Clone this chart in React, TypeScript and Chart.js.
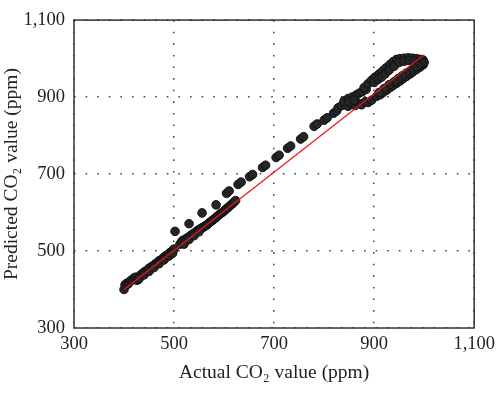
import React, { useEffect, useRef } from "react";
import { Chart, registerables } from "chart.js";

Chart.register(...registerables);

const xTickValues = [300, 500, 700, 900, 1100];
const xTickLabels = ["300", "500", "700", "900", "1,100"];
const yTickValues = [300, 500, 700, 900, 1100];
const yTickLabels = ["300", "500", "700", "900", "1,100"];

const xTitle = "Actual CO\u2082 value (ppm)";
const yTitle = "Predicted CO\u2082 value (ppm)";

// fit line (actual -> predicted)
const fitLine: [number, number][] = [
  [400, 400],
  [1000, 1010],
];

// lower dense band 400-500
const bandLow: [number, number][] = [
  [400, 400], [402, 412], [405, 416], [408, 414], [411, 420], [414, 424], [417, 425],
  [420, 430], [423, 432], [426, 424], [429, 427], [432, 436], [435, 440], [438, 442],
  [441, 446], [444, 448], [447, 450], [450, 455], [453, 457], [456, 460], [459, 462],
  [462, 466], [465, 468], [468, 472], [471, 475], [474, 477], [477, 480], [480, 484],
  [483, 487], [486, 489], [489, 492], [492, 496], [495, 498], [498, 502], [500, 505],
  [430, 428], [440, 438], [450, 447], [460, 457], [470, 467], [480, 477], [490, 487], [497, 494],
];

// middle band 510-625
const bandMid: [number, number][] = [
  [512, 518], [515, 524], [518, 528], [521, 527], [524, 532], [527, 534], [530, 537],
  [533, 540], [536, 543], [539, 545], [542, 548], [545, 551], [548, 554], [551, 556],
  [554, 559], [557, 561], [560, 563], [520, 518], [530, 530], [540, 540], [550, 550],
  [563, 566], [566, 568], [569, 572], [572, 575], [575, 578], [578, 581], [581, 584],
  [584, 587], [587, 591], [590, 594], [593, 597], [596, 600], [599, 603], [602, 606],
  [605, 610], [608, 613], [611, 617], [614, 620], [617, 623], [620, 627], [623, 631],
];

// outliers and dashed upper series
const upperSeries: [number, number][] = [
  [502, 551], [530, 571], [556, 599], [584, 620],
  [605, 650], [610, 656], [628, 673], [634, 679], [651, 693], [657, 699],
  [677, 717], [683, 723], [704, 743], [710, 749], [727, 767], [733, 773],
  [753, 791], [759, 797], [780, 824], [786, 830], [800, 840], [806, 846],
  [819, 858], [825, 864],
];

// upper-right cluster
const clusterHigh: [number, number][] = [
  [828, 872], [835, 878], [842, 880], [848, 876], [855, 882], [862, 878], [868, 884],
  [875, 880], [882, 888], [888, 886], [895, 892], [840, 890], [848, 896], [856, 900],
  [864, 905], [870, 910], [876, 914], [884, 920], [850, 888], [860, 892],
  [880, 925], [888, 935], [895, 944], [902, 952], [910, 960], [917, 968], [924, 976],
  [931, 984], [938, 992], [945, 998], [952, 1000], [960, 1001], [968, 1002], [976, 1001],
  [984, 1000], [992, 998], [998, 996],
  [900, 938], [908, 946], [915, 952], [922, 960], [930, 970], [940, 980], [950, 990],
  [960, 993], [970, 995], [980, 993], [990, 990],
  [905, 902], [912, 906], [918, 912], [925, 918], [932, 925], [938, 930], [945, 936],
  [952, 942], [958, 948], [965, 954], [972, 960], [978, 966], [985, 972], [992, 978],
  [998, 984], [1000, 990], [995, 988], [988, 982], [980, 975], [972, 968], [964, 962],
  [956, 955], [948, 948], [940, 940], [930, 932], [920, 922], [910, 912],
];

const toXY = (arr: [number, number][]) => arr.map(([x, y]) => ({ x, y }));

const FONT = "'Liberation Serif', 'DejaVu Serif', serif";

export default function App() {
  const ref = useRef<HTMLCanvasElement | null>(null);

  useEffect(() => {
    if (!ref.current) return;
    const points = [...bandLow, ...bandMid, ...upperSeries, ...clusterHigh];
    const framePlugin = {
      id: "frame",
      afterDraw(chart: any) {
        const { ctx, chartArea } = chart;
        ctx.save();
        ctx.strokeStyle = "#333";
        ctx.lineWidth = 1.5;
        ctx.strokeRect(chartArea.left, chartArea.top, chartArea.right - chartArea.left, chartArea.bottom - chartArea.top);
        ctx.restore();
      },
    };
    const chart = new Chart(ref.current, {
      type: "scatter",
      data: {
        datasets: [
          {
            label: "fit",
            data: toXY(fitLine),
            showLine: true,
            borderColor: "#e8161b",
            borderWidth: 1.2,
            pointRadius: 0,
            fill: false,
          },
          {
            label: "data",
            data: toXY(points),
            pointRadius: 4.3,
            backgroundColor: "#262626",
            borderColor: "#111",
            borderWidth: 1,
          },
        ],
      },
      options: {
        responsive: false,
        animation: false,
        layout: { padding: { top: 12, right: 22, left: 0, bottom: 0 } },
        plugins: { legend: { display: false }, tooltip: { enabled: false } },
        scales: {
          x: {
            type: "linear",
            min: 300,
            max: 1100,
            afterBuildTicks: (axis: any) => {
              axis.ticks = xTickValues.map((v) => ({ value: v }));
            },
            afterFit: (scale: any) => {
              scale.height = 65;
            },
            ticks: {
              callback: (v: any) => xTickLabels[xTickValues.indexOf(Number(v))],
              font: { family: FONT, size: 18.5 },
              color: "#222",
              padding: 5,
              maxRotation: 0,
            },
            grid: { color: "#444", lineWidth: 1.5, drawTicks: false },
            border: { display: false, dash: [1.6, 10] },
            title: {
              display: true,
              text: xTitle,
              font: { family: FONT, size: 19.5 },
              color: "#222",
              padding: { top: 0, bottom: 8 },
            },
          },
          y: {
            type: "linear",
            min: 300,
            max: 1100,
            afterBuildTicks: (axis: any) => {
              axis.ticks = yTickValues.map((v) => ({ value: v }));
            },
            afterFit: (scale: any) => {
              scale.width = 74;
            },
            ticks: {
              callback: (v: any) => yTickLabels[yTickValues.indexOf(Number(v))],
              font: { family: FONT, size: 18.5 },
              color: "#222",
              padding: 9,
            },
            grid: { color: "#444", lineWidth: 1.5, drawTicks: false },
            border: { display: false, dash: [1.6, 10] },
            title: {
              display: true,
              text: yTitle,
              font: { family: FONT, size: 19.5 },
              color: "#222",
              padding: { top: 0, bottom: 1 },
            },
          },
        },
      },
      plugins: [framePlugin],
    } as any);
    return () => chart.destroy();
  }, []);

  return (
    <div style={{ position: "absolute", left: 0, top: 0, width: 500, height: 393, background: "#fff" }}>
      <canvas ref={ref} width={500} height={393} />
    </div>
  );
}
